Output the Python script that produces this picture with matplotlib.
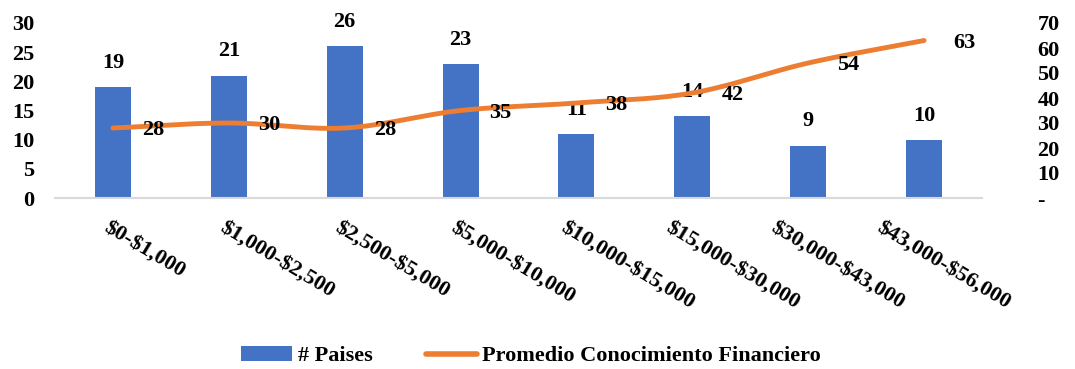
import matplotlib
matplotlib.use("Agg")
import matplotlib.pyplot as plt
import matplotlib.transforms as mtransforms
import numpy as np
from matplotlib.patches import Patch
from matplotlib.lines import Line2D

categories = ["$0-$1,000", "$1,000-$2,500", "$2,500-$5,000", "$5,000-$10,000",
              "$10,000-$15,000", "$15,000-$30,000", "$30,000-$43,000", "$43,000-$56,000"]
paises = [19, 21, 26, 23, 11, 14, 9, 10]
promedio = [28, 30, 28, 35, 38, 42, 54, 63]
left_ticks = [0, 5, 10, 15, 20, 25, 30]
right_ticks = [0, 10, 20, 30, 40, 50, 60, 70]
right_labels = ["-", "10", "20", "30", "40", "50", "60", "70"]

BLUE = "#4472C4"
ORANGE = "#ED7D31"
plt.rcParams['font.family'] = ['Liberation Serif', 'DejaVu Serif']
plt.rcParams['font.weight'] = 'bold'
plt.rcParams['text.parse_math'] = False
FS = 16

fig = plt.figure(figsize=(10.75, 3.69), dpi=100)
W, H = 1075, 369
ax = fig.add_axes([55 / W, 1 - 198 / H, (982 - 55) / W, (198 - 23) / H])
ax2 = ax.twinx()

x = np.arange(len(categories))
ax.bar(x, paises, width=0.31, color=BLUE, zorder=2)
ax.set_xlim(-0.5, len(categories) - 0.5)
ax.set_ylim(0, 30)
ax.set_yticks(left_ticks)
ax.set_yticklabels([str(t) for t in left_ticks], fontsize=FS, fontweight='bold')
ax.tick_params(axis='y', length=0, pad=15)
ax.set_xticks(x)
ax.set_xticklabels(categories, rotation=-31, ha='left', va='top',
                   rotation_mode='anchor', fontsize=FS, fontweight='bold')
ax.tick_params(axis='x', length=0, pad=14)
# shift of the longer labels to the left, as in the reference
shifts = [-2, -2, -3, -3, -9, -20, -31, -40]
for lab, dx in zip(ax.get_xticklabels(), shifts):
    lab.set_transform(lab.get_transform() +
                      mtransforms.ScaledTranslation(dx / 100, 0, fig.dpi_scale_trans))
for s in ['top', 'right', 'left']:
    ax.spines[s].set_visible(False)
ax.spines['bottom'].set_color('#D9D9D9')
ax.spines['bottom'].set_linewidth(1.5)

for xi, v in zip(x, paises):
    ax.annotate(str(v), (xi, v), xytext=(0, 24), textcoords='offset pixels',
                ha='center', va='center', fontsize=FS, fontweight='bold')

# smoothed line (Catmull-Rom)
px = x.astype(float)
py = np.array(promedio, dtype=float)
sx, sy = [], []
P = np.column_stack([px, py])
Pext = np.vstack([P[0] - (P[1] - P[0]), P, P[-1] + (P[-1] - P[-2])])
for i in range(1, len(Pext) - 2):
    p0, p1, p2, p3 = Pext[i - 1], Pext[i], Pext[i + 1], Pext[i + 2]
    t = np.linspace(0, 1, 30)[:, None]
    c1 = p1 + (p2 - p0) / 6
    c2 = p2 - (p3 - p1) / 6
    b = (1 - t) ** 3 * p1 + 3 * (1 - t) ** 2 * t * c1 + 3 * (1 - t) * t ** 2 * c2 + t ** 3 * p2
    sx.extend(b[:, 0]); sy.extend(b[:, 1])
ax2.plot(sx, sy, color=ORANGE, lw=3.5, solid_capstyle='round', zorder=3)
ax2.set_ylim(0, 70)
ax2.set_yticks(right_ticks)
ax2.set_yticklabels(right_labels, fontsize=FS, fontweight='bold')
ax2.tick_params(axis='y', length=0, pad=40)
for s in ['top', 'right', 'left', 'bottom']:
    ax2.spines[s].set_visible(False)

for xi, v in zip(x, promedio):
    ax2.annotate(str(v), (xi, v), xytext=(29, -2), textcoords='offset pixels',
                 ha='left', va='center', fontsize=FS, fontweight='bold')

handles = [Patch(facecolor=BLUE, edgecolor='none'),
           Line2D([0], [0], color=ORANGE, lw=4, solid_capstyle='round')]
fig.legend(handles, ["# Paises", "Promedio Conocimiento Financiero"],
           loc='center', bbox_to_anchor=(531 / W, 1 - 356 / H), ncol=2,
           frameon=False, fontsize=FS, handlelength=2.3, handletextpad=0.25,
           columnspacing=2.4, prop={'weight': 'bold', 'size': FS})

fig.savefig("out.png", dpi=100)
